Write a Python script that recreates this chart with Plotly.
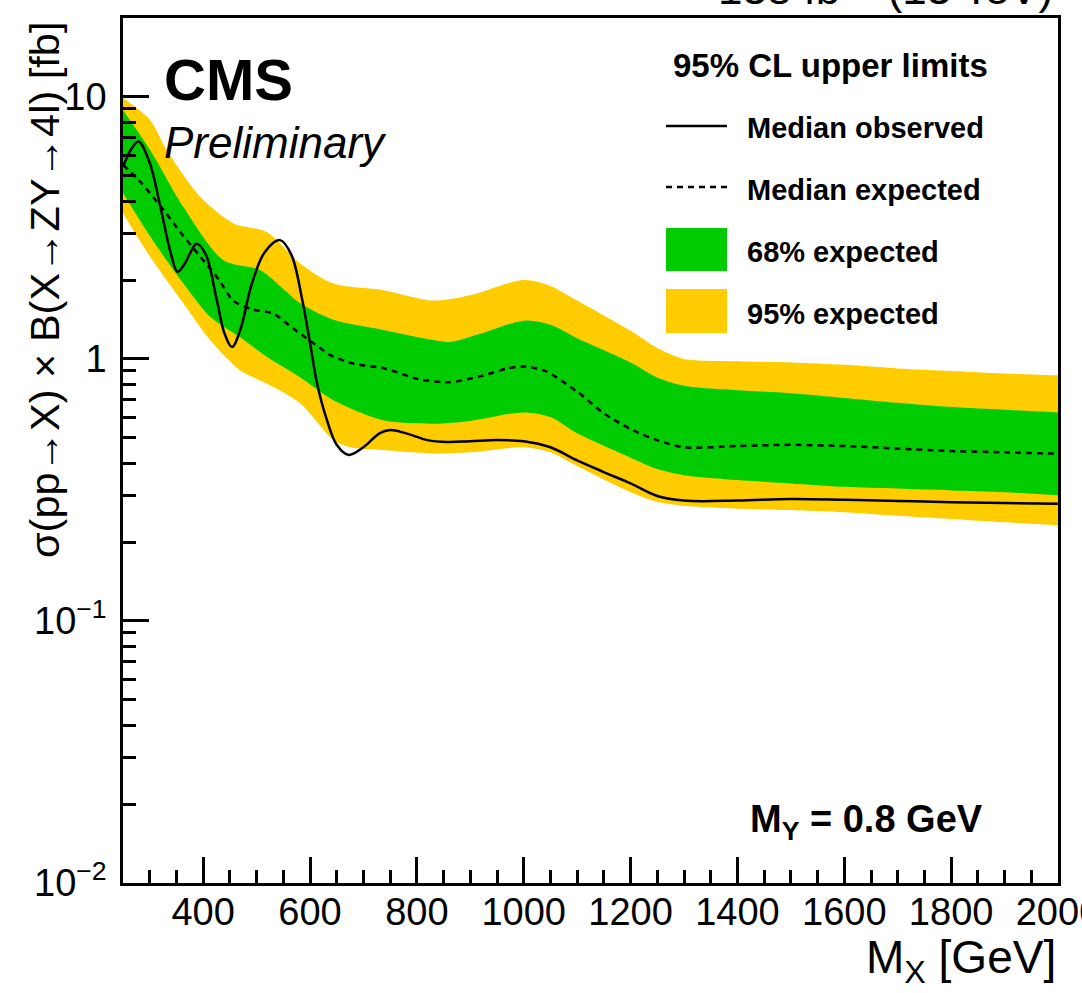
import plotly.graph_objects as go

# ---------------- data ----------------
obs_mx = [250, 265, 279, 300, 320, 340, 352, 365, 388, 405, 425, 440, 454, 470, 490, 515, 544,
          565, 585, 600, 613, 630, 650, 672, 700, 730, 750, 780, 820, 856, 900, 950, 1000, 1050,
          1100, 1150, 1200, 1250, 1300, 1400, 1500, 1600, 1700, 1800, 1900, 2000]
obs_lim = [5.4, 6.3, 6.75, 5.6, 3.8, 2.5, 2.15, 2.3, 2.75, 2.5, 1.7, 1.25, 1.11, 1.3, 1.9, 2.55, 2.84,
           2.5, 1.7, 1.15, 0.81, 0.6, 0.47, 0.43, 0.46, 0.52, 0.535, 0.52, 0.49, 0.482, 0.485, 0.49, 0.485, 0.46,
           0.41, 0.37, 0.335, 0.30, 0.288, 0.288, 0.292, 0.29, 0.287, 0.284, 0.282, 0.28]

exp_mx = [250, 280, 326, 360, 395, 430, 456, 490, 531, 570, 606, 640, 681, 740, 800, 860, 920, 970,
          1000, 1040, 1100, 1150, 1200, 1250, 1300, 1400, 1500, 1600, 1700, 1800, 1900, 2000]
exp_lim = [5.5, 4.8, 3.7, 3.0, 2.45, 2.0, 1.67, 1.55, 1.49, 1.3, 1.15, 1.03, 0.96, 0.92, 0.84, 0.815, 0.86, 0.92,
           0.935, 0.9, 0.75, 0.62, 0.54, 0.49, 0.46, 0.465, 0.47, 0.465, 0.455, 0.445, 0.44, 0.435]

g_up_mx = [250, 301, 363, 438, 507, 582, 644, 737, 831, 862, 920, 1000, 1050, 1100, 1200, 1250, 1300,
           1400, 1500, 1600, 1700, 1800, 1900, 2000]
g_up = [8.9, 6.26, 3.80, 2.38, 2.18, 1.63, 1.41, 1.29, 1.18, 1.16, 1.25, 1.40, 1.35, 1.2, 0.97, 0.85, 0.79,
        0.76, 0.74, 0.71, 0.68, 0.655, 0.64, 0.625]

g_lo_mx = [250, 301, 363, 413, 469, 519, 582, 644, 737, 831, 900, 1000, 1050, 1100, 1200, 1250, 1300,
           1400, 1500, 1600, 1700, 1800, 1900, 2000]
g_lo = [4.3, 2.93, 1.94, 1.45, 1.21, 1.02, 0.85, 0.695, 0.583, 0.566, 0.58, 0.625, 0.6, 0.52, 0.42, 0.38, 0.36,
        0.345, 0.335, 0.325, 0.32, 0.315, 0.31, 0.302]

y_up_mx = [250, 301, 332, 395, 457, 519, 582, 644, 737, 831, 900, 1000, 1050, 1100, 1200, 1250, 1300,
           1400, 1500, 1600, 1700, 1800, 1900, 2000]
y_up = [9.9, 8.15, 6.26, 4.15, 3.29, 3.05, 2.31, 1.94, 1.83, 1.67, 1.75, 2.0, 1.9, 1.67, 1.28, 1.1, 1.0,
        0.98, 0.97, 0.95, 0.92, 0.9, 0.88, 0.867]

y_lo_mx = [250, 301, 363, 413, 469, 519, 582, 644, 675, 737, 831, 900, 1000, 1050, 1100, 1200, 1250, 1300,
           1400, 1500, 1600, 1700, 1800, 1900, 2000]
y_lo = [3.6, 2.45, 1.63, 1.18, 0.905, 0.805, 0.676, 0.49, 0.46, 0.449, 0.436, 0.44, 0.46, 0.44, 0.39, 0.31,
        0.285, 0.275, 0.268, 0.265, 0.26, 0.252, 0.245, 0.238, 0.232]

x_tickvals = [400, 600, 800, 1000, 1200, 1400, 1600, 1800, 2000]
x_ticktext = ["400", "600", "800", "1000", "1200", "1400", "1600", "1800", "2000"]
x_minor = [300, 350, 450, 500, 550, 650, 700, 750, 850, 900, 950, 1050, 1100, 1150, 1250, 1300, 1350,
           1450, 1500, 1550, 1650, 1700, 1750, 1850, 1900, 1950]
y_tickvals = [0.01, 0.1, 1, 10]
y_ticktext = ["10<sup>\u22122</sup>", "10<sup>\u22121</sup>", "1", "10"]
y_minor = [m * d for d in (0.01, 0.1, 1) for m in range(2, 10)] + [20]

YELLOW = "#FFCC00"
GREEN = "#00CC00"
FONT = "Liberation Sans, Arial, Helvetica, sans-serif"

# ---------------- figure geometry ----------------
W, H = 1082, 993
ML, MR, MT, MB = 123, 24, 18, 110
PW, PH = W - ML - MR, H - MT - MB


def px(xp):
    return (xp - ML) / PW


def py(yp):
    return 1 - (yp - MT) / PH


fig = go.Figure()

# 95% band
fig.add_trace(go.Scatter(x=y_lo_mx, y=y_lo, mode="lines", line=dict(width=0, shape="spline", smoothing=0.8),
                         hoverinfo="skip", showlegend=False))
fig.add_trace(go.Scatter(x=y_up_mx, y=y_up, mode="lines", line=dict(width=0, shape="spline", smoothing=0.8),
                         fill="tonexty", fillcolor=YELLOW, name="95% expected", showlegend=False))
# 68% band
fig.add_trace(go.Scatter(x=g_lo_mx, y=g_lo, mode="lines", line=dict(width=0, shape="spline", smoothing=0.8),
                         hoverinfo="skip", showlegend=False))
fig.add_trace(go.Scatter(x=g_up_mx, y=g_up, mode="lines", line=dict(width=0, shape="spline", smoothing=0.8),
                         fill="tonexty", fillcolor=GREEN, name="68% expected", showlegend=False))
# expected
fig.add_trace(go.Scatter(x=exp_mx, y=exp_lim, mode="lines",
                         line=dict(color="black", width=2.5, dash="6px,5px", shape="spline", smoothing=0.8),
                         name="Median expected", showlegend=False))
# observed
fig.add_trace(go.Scatter(x=obs_mx, y=obs_lim, mode="lines",
                         line=dict(color="black", width=2.5, shape="spline", smoothing=1.0),
                         name="Median observed", showlegend=False))

axis_common = dict(showgrid=False, zeroline=False, showline=True, linecolor="black", linewidth=2.5,
                   mirror=True, ticks="inside", tickcolor="black", tickwidth=2.5, ticklen=26,
                   tickfont=dict(family=FONT, size=38, color="black"), automargin=False)

fig.update_xaxes(range=[250, 2000], tickmode="array", tickvals=x_tickvals, ticktext=x_ticktext,
                 minor=dict(ticks="inside", ticklen=13, tickwidth=2.5, tickcolor="black",
                            tickmode="array", tickvals=x_minor),
                 ticklabelstandoff=-6, ticklabeloverflow="allow", **axis_common)
fig.update_yaxes(type="log", range=[-2, 1.30103], tickmode="array", tickvals=y_tickvals, ticktext=y_ticktext,
                 minor=dict(ticks="inside", ticklen=13, tickwidth=2.5, tickcolor="black",
                            tickmode="array", tickvals=y_minor),
                 ticklabelstandoff=6, **axis_common)

annotations = [
    dict(text="<b>CMS</b>", x=px(162), y=py(45), xanchor="left", yanchor="top",
         font=dict(family=FONT, size=58, color="black")),
    dict(text="<i>Preliminary</i>", x=px(162), y=py(116), xanchor="left", yanchor="top",
         font=dict(family=FONT, size=44, color="black")),
    dict(text="<b>95% CL upper limits</b>", x=px(830), y=py(66), xanchor="center", yanchor="middle",
         font=dict(family=FONT, size=33, color="black")),
    dict(text="<b>Median observed</b>", x=px(745), y=py(128), xanchor="left", yanchor="middle",
         font=dict(family=FONT, size=29, color="black")),
    dict(text="<b>Median expected</b>", x=px(745), y=py(190), xanchor="left", yanchor="middle",
         font=dict(family=FONT, size=29, color="black")),
    dict(text="<b>68% expected</b>", x=px(745), y=py(252), xanchor="left", yanchor="middle",
         font=dict(family=FONT, size=29, color="black")),
    dict(text="<b>95% expected</b>", x=px(745), y=py(314), xanchor="left", yanchor="middle",
         font=dict(family=FONT, size=29, color="black")),
    dict(text="<b>M<sub>Y</sub> = 0.8 GeV</b>", x=px(985), y=py(822), xanchor="right", yanchor="middle",
         font=dict(family=FONT, size=38, color="black")),
    dict(text="M<sub>X</sub> [GeV]", x=1.0, y=py(960), xanchor="right", yanchor="middle",
         font=dict(family=FONT, size=46, color="black")),
    dict(text="\u03c3(pp\u2192X) \u00d7 B(X\u2192ZY\u21924l) [fb]", x=px(44), y=py(20), xanchor="center",
         yanchor="top", textangle=-90, font=dict(family=FONT, size=41.5, color="black")),
    dict(text="138 fb<sup>\u22121</sup> (13 TeV)", x=px(1055), y=py(15), xanchor="right", yanchor="bottom",
         font=dict(family=FONT, size=44, color="black")),
]
for a in annotations:
    a.update(xref="paper", yref="paper", showarrow=False)

shapes = [
    dict(type="line", x0=px(666), x1=px(727), y0=py(126), y1=py(126),
         line=dict(color="black", width=2.5)),
    dict(type="line", x0=px(666), x1=px(727), y0=py(187), y1=py(187),
         line=dict(color="black", width=2.5, dash="6px,5px")),
    dict(type="rect", x0=px(666), x1=px(727), y0=py(228), y1=py(271),
         line=dict(width=0), fillcolor=GREEN),
    dict(type="rect", x0=px(666), x1=px(727), y0=py(289), y1=py(333),
         line=dict(width=0), fillcolor=YELLOW),
]
for s in shapes:
    s.update(xref="paper", yref="paper")

fig.update_layout(width=W, height=H, margin=dict(l=ML, r=MR, t=MT, b=MB, autoexpand=False),
                  paper_bgcolor="white", plot_bgcolor="white", showlegend=False,
                  annotations=annotations, shapes=shapes,
                  font=dict(family=FONT, color="black"))

fig.write_html("out.html")
